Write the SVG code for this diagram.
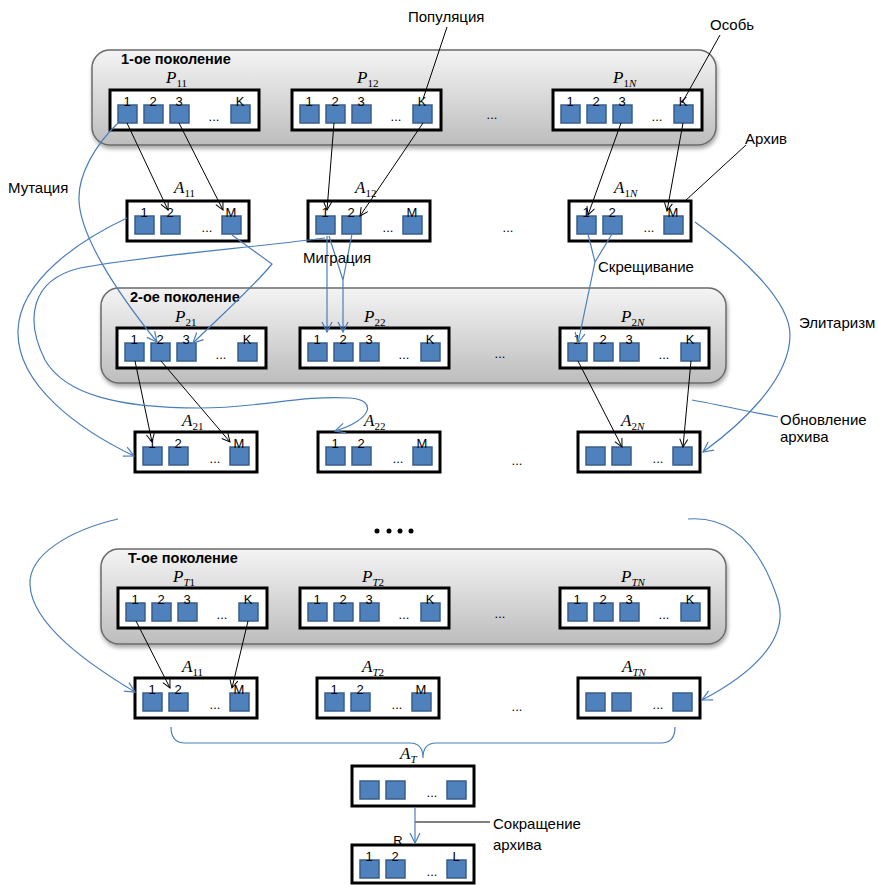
<svg xmlns="http://www.w3.org/2000/svg" xmlns:xlink="http://www.w3.org/1999/xlink" width="879" height="885" viewBox="0 0 879 885">
<style>
.gen{fill:url(#gg);stroke:#6b6b6b;stroke-width:1.5}
.box{fill:#fff;stroke:#000;stroke-width:3}
.sq{fill:#4F81BD;stroke:#385D8A;stroke-width:1.5}
.num{font-family:"Liberation Sans",Arial,sans-serif;font-size:13px;text-anchor:middle;fill:#000}
.ell{font-family:"Liberation Sans",Arial,sans-serif;font-size:13px;text-anchor:middle;fill:#000}
.lbl{font-family:"Liberation Serif","Times New Roman",serif;font-size:17px;font-style:italic;fill:#000}
.sub{font-size:11px;font-style:normal}
.subi{font-size:11px;font-style:italic}
.gl{font-family:"Liberation Sans",Arial,sans-serif;font-size:14.5px;font-weight:bold;fill:#000}
.tx{font-family:"Liberation Sans",Arial,sans-serif;font-size:15px;fill:#000}
.bk{fill:none;stroke:#000;stroke-width:1}
.bka{fill:none;stroke:#000;stroke-width:1;marker-end:url(#ak)}
.bl{fill:none;stroke:#4A7EBB;stroke-width:1.2}
.bla{fill:none;stroke:#4A7EBB;stroke-width:1.2;marker-end:url(#ab)}
</style>
<defs>
<linearGradient id="gg" x1="0" y1="0" x2="0" y2="1">
<stop offset="0" stop-color="#f4f4f4"/>
<stop offset="1" stop-color="#bdbdbd"/>
</linearGradient>
<filter id="sh" x="-5%" y="-10%" width="110%" height="130%">
<feGaussianBlur in="SourceAlpha" stdDeviation="2"/>
<feOffset dx="1" dy="3" result="o"/>
<feComponentTransfer><feFuncA type="linear" slope="0.35"/></feComponentTransfer>
<feMerge><feMergeNode/><feMergeNode in="SourceGraphic"/></feMerge>
</filter>
<marker id="ak" markerWidth="10" markerHeight="10" refX="9" refY="5" orient="auto" markerUnits="userSpaceOnUse">
<path d="M1,1 L9,5 L1,9" fill="none" stroke="#000" stroke-width="1"/>
</marker>
<marker id="ab" markerWidth="12" markerHeight="12" refX="11" refY="6" orient="auto" markerUnits="userSpaceOnUse">
<path d="M1,1 L11,6 L1,11" fill="none" stroke="#4A7EBB" stroke-width="1.2"/>
</marker>
<rect id="sq" class="sq" width="19" height="18"/>
<g id="pbox">
<rect class="box" width="149" height="40"/>
<use xlink:href="#sq" x="8" y="15"/><use xlink:href="#sq" x="34" y="15"/><use xlink:href="#sq" x="60" y="15"/><use xlink:href="#sq" x="121" y="15"/>
<text class="num" x="17" y="16">1</text><text class="num" x="43" y="16">2</text><text class="num" x="69" y="16">3</text><text class="num" x="130" y="16">K</text>
<text class="ell" x="104" y="31">...</text>
</g>
<g id="abox0">
<rect class="box" width="122" height="40"/>
<use xlink:href="#sq" x="8" y="15"/><use xlink:href="#sq" x="34" y="15"/><use xlink:href="#sq" x="95" y="15"/>
<text class="ell" x="80" y="31">...</text>
</g>
<g id="abox">
<use xlink:href="#abox0"/>
<text class="num" x="17" y="16">1</text><text class="num" x="43" y="16">2</text><text class="num" x="104" y="16">M</text>
</g>
</defs>
<rect width="879" height="885" fill="#fff"/>

<!-- generation containers -->
<g id="gen1">
<rect class="gen" x="92" y="50" width="624" height="95" rx="18" filter="url(#sh)"/>
<text class="gl" x="121" y="64">1-ое поколение</text>
<text class="ell" x="492" y="119">...</text>
<text class="ell" x="508" y="232">...</text>
</g>
<g id="gen2">
<rect class="gen" x="101" y="288" width="625" height="95" rx="18" filter="url(#sh)"/>
<text class="gl" x="130" y="302">2-ое поколение</text>
<text class="ell" x="500" y="358">...</text>
<text class="ell" x="517" y="465">...</text>
</g>
<g id="genT">
<rect class="gen" x="101" y="549" width="625" height="95" rx="18" filter="url(#sh)"/>
<text class="gl" x="128" y="563">T-ое поколение</text>
<text class="ell" x="500" y="618">...</text>
<text class="ell" x="517" y="711">...</text>
</g>

<!-- gen 1 nodes -->
<g id="P11" transform="translate(110,90)"><use xlink:href="#pbox"/><text class="lbl" x="56" y="-7">P<tspan class="sub" dy="4">11</tspan></text></g>
<g id="P12" transform="translate(292,90)"><use xlink:href="#pbox"/><text class="lbl" x="65" y="-7">P<tspan class="sub" dy="4">12</tspan></text></g>
<g id="P1N" transform="translate(553,90)"><use xlink:href="#pbox"/><text class="lbl" x="60" y="-7">P<tspan class="sub" dy="4">1</tspan><tspan class="subi">N</tspan></text></g>
<g id="A11" transform="translate(127,201)"><use xlink:href="#abox"/><text class="lbl" x="47" y="-8">A<tspan class="sub" dy="4">11</tspan></text></g>
<g id="A12" transform="translate(308,201)"><use xlink:href="#abox"/><text class="lbl" x="47" y="-8">A<tspan class="sub" dy="4">12</tspan></text></g>
<g id="A1N" transform="translate(569,201)"><use xlink:href="#abox"/><text class="lbl" x="45" y="-8">A<tspan class="sub" dy="4">1</tspan><tspan class="subi">N</tspan></text></g>

<!-- gen 2 nodes -->
<g id="P21" transform="translate(117,328)"><use xlink:href="#pbox"/><text class="lbl" x="58" y="-6">P<tspan class="sub" dy="4">21</tspan></text></g>
<g id="P22" transform="translate(300,328)"><use xlink:href="#pbox"/><text class="lbl" x="64" y="-6">P<tspan class="sub" dy="4">22</tspan></text></g>
<g id="P2N" transform="translate(560,328)"><use xlink:href="#pbox"/><text class="lbl" x="61" y="-6">P<tspan class="sub" dy="4">2</tspan><tspan class="subi">N</tspan></text></g>
<g id="A21" transform="translate(135,432)"><use xlink:href="#abox"/><text class="lbl" x="47" y="-6">A<tspan class="sub" dy="4">21</tspan></text></g>
<g id="A22" transform="translate(318,432)"><use xlink:href="#abox"/><text class="lbl" x="46" y="-6">A<tspan class="sub" dy="4">22</tspan></text></g>
<g id="A2N" transform="translate(578,432)"><use xlink:href="#abox0"/><text class="lbl" x="43" y="-6">A<tspan class="sub" dy="4">2</tspan><tspan class="subi">N</tspan></text></g>

<!-- gen T nodes -->
<g id="PT1" transform="translate(118,588)"><use xlink:href="#pbox"/><text class="lbl" x="55" y="-6">P<tspan class="subi" dy="4">T</tspan><tspan class="sub">1</tspan></text></g>
<g id="PT2" transform="translate(300,588)"><use xlink:href="#pbox"/><text class="lbl" x="62" y="-6">P<tspan class="subi" dy="4">T</tspan><tspan class="sub">2</tspan></text></g>
<g id="PTN" transform="translate(560,588)"><use xlink:href="#pbox"/><text class="lbl" x="61" y="-6">P<tspan class="subi" dy="4">TN</tspan></text></g>
<g id="AT1" transform="translate(135,678)"><use xlink:href="#abox"/><text class="lbl" x="47" y="-6">A<tspan class="sub" dy="4">11</tspan></text></g>
<g id="AT2" transform="translate(317,678)"><use xlink:href="#abox"/><text class="lbl" x="45" y="-6">A<tspan class="subi" dy="4">T</tspan><tspan class="sub">2</tspan></text></g>
<g id="ATN" transform="translate(578,678)"><use xlink:href="#abox0"/><text class="lbl" x="44" y="-6">A<tspan class="subi" dy="4">TN</tspan></text></g>

<g id="AT" transform="translate(352,766)"><use xlink:href="#abox0"/><text class="lbl" x="48" y="-7">A<tspan class="subi" dy="4">T</tspan></text></g>
<g id="R" transform="translate(352,845)">
<rect class="box" width="122" height="38"/>
<use xlink:href="#sq" x="8" y="15"/><use xlink:href="#sq" x="34" y="15"/><use xlink:href="#sq" x="95" y="15"/>
<text class="num" x="17" y="16">1</text><text class="num" x="43" y="16">2</text><text class="num" x="104" y="16">L</text>
<text class="ell" x="80" y="31">...</text>
<text class="num" x="46" y="0">R</text>
</g>

<g id="dots" fill="#000">
<circle cx="377" cy="531" r="2.5"/><circle cx="389" cy="531" r="2.5"/><circle cx="400" cy="531" r="2.5"/><circle cx="411" cy="531" r="2.5"/>
</g>

<!-- connectors -->
<g id="connectors">
<line class="bka" x1="127" y1="123" x2="168" y2="210"/>
<line class="bka" x1="179" y1="123" x2="223" y2="210"/>
<line class="bka" x1="334" y1="123" x2="327" y2="210"/>
<line class="bka" x1="423" y1="123" x2="360" y2="216"/>
<line class="bka" x1="621" y1="123" x2="588" y2="215"/>
<line class="bka" x1="683" y1="123" x2="667" y2="211"/>
<line class="bka" x1="135" y1="361" x2="152" y2="442"/>
<line class="bka" x1="161" y1="361" x2="230" y2="442"/>
<line class="bka" x1="578" y1="361" x2="622" y2="447"/>
<line class="bka" x1="691" y1="361" x2="683" y2="447"/>
<line class="bka" x1="136" y1="621" x2="170" y2="688"/>
<line class="bka" x1="248" y1="621" x2="232" y2="688"/>
<line class="bk" x1="447" y1="27" x2="423" y2="99"/>
<line class="bk" x1="720" y1="35" x2="682" y2="103"/>
<line class="bk" x1="746" y1="145" x2="685" y2="201"/>
<line class="bk" x1="415" y1="822" x2="490" y2="822"/>
<path class="bla" d="M118,123 C95,145 78,175 79,200 C80,235 115,290 157,342"/>
<path class="bla" d="M127,218 C80,240 20,280 18,330 C16,385 80,430 134,456"/>
<path class="bla" d="M325,238 C250,248 150,255 80,268 C30,280 25,320 45,360 C65,395 120,408 200,408 C260,408 300,395 350,398 C378,400 372,420 335,431"/>
<path class="bla" d="M232,235 L272,264 C255,285 225,312 193,343"/>
<path class="bla" d="M327,236 L327,332"/>
<path class="bl" d="M329,236 L343,280 M352,234 L343,280"/>
<path class="bla" d="M343,280 L343,332"/>
<path class="bl" d="M588,234 L595,262 M612,234 L595,262"/>
<path class="bla" d="M595,262 L578,343"/>
<path class="bla" d="M695,222 C740,255 790,300 790,335 C790,380 740,425 703,452"/>
<path class="bl" d="M692,400 C720,405 750,412 778,417"/>
<path class="bla" d="M118,519 C70,530 28,555 30,585 C32,625 90,665 135,692"/>
<path class="bla" d="M688,519 C740,515 765,560 778,600 C790,640 750,675 702,700"/>
<path class="bl" d="M171,727 Q171,743 185,743 L410,743 Q423,743 423,758 Q423,743 436,743 L661,743 Q675,743 675,727"/>
<path class="bla" d="M415,807 L415,843"/>
</g>

<g id="labels">
<text class="tx" x="408" y="22">Популяция</text>
<text class="tx" x="710" y="30">Особь</text>
<text class="tx" x="745" y="144">Архив</text>
<text class="tx" x="8" y="193">Мутация</text>
<text class="tx" x="303" y="263">Миграция</text>
<text class="tx" x="598" y="272">Скрещивание</text>
<text class="tx" x="799" y="328">Элитаризм</text>
<text class="tx" x="780" y="425">Обновление</text>
<text class="tx" x="780" y="442">архива</text>
<text class="tx" x="493" y="829">Сокращение</text>
<text class="tx" x="493" y="850">архива</text>
</g>
</svg>
